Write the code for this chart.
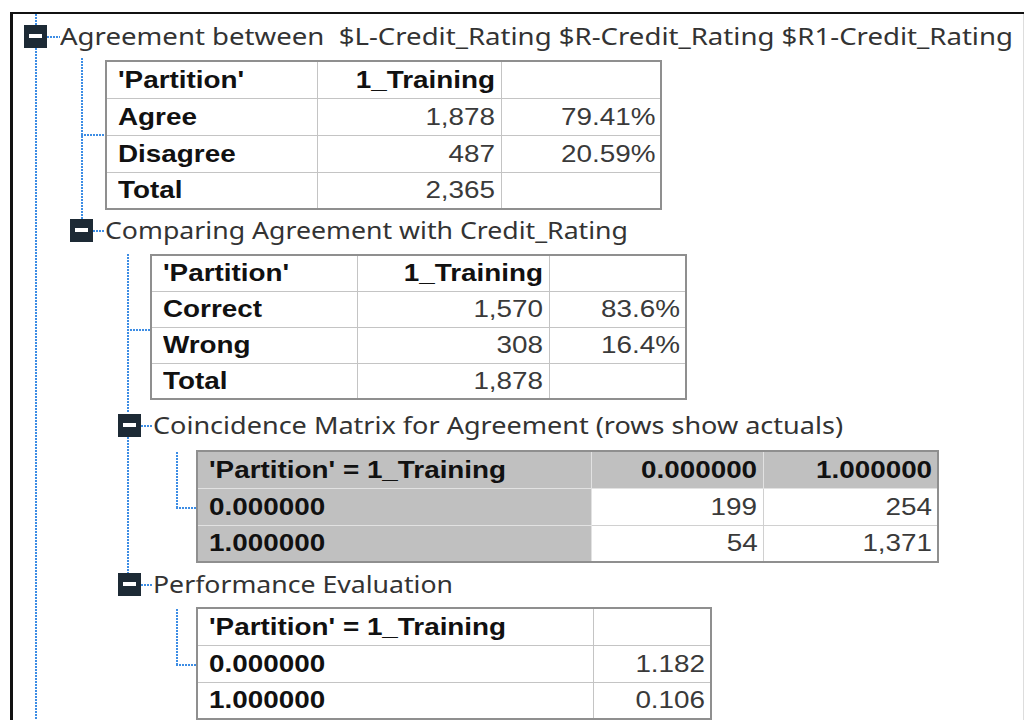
<!DOCTYPE html>
<html>
<head>
<meta charset="utf-8">
<script src="https://cdn.jsdelivr.net/npm/chart.js@4"></script>
<style>
  html, body { margin: 0; padding: 0; background: #fff; }
  body { width: 1026px; height: 720px; position: relative; overflow: hidden; font-family: "Liberation Sans", Arial, sans-serif; }
  .frameTop { position: absolute; left: 10px; top: 12px; width: 1014px; height: 2px; background: #111; }
  .frameLeft { position: absolute; left: 10px; top: 12px; width: 3px; height: 708px; background: #111; }
  .frameRight { position: absolute; left: 1023px; top: 14px; width: 1px; height: 706px; background: #ddd; }
  .vdot { position: absolute; width: 2px; background: repeating-linear-gradient(to bottom, #3d8de4 0 2px, transparent 2px 3px); }
  .hdot { position: absolute; height: 2px; background: repeating-linear-gradient(to right, #3d8de4 0 2px, transparent 2px 3px); }
  .box { position: absolute; width: 23px; height: 23px; background: #1d2a35; }
  .box::after { content: ""; position: absolute; left: 5px; top: 9px; width: 13px; height: 4px; background: #fff; }
  .title { position: absolute; font-family: "Noto Sans", sans-serif; font-size: 23px; color: #333; white-space: pre; transform-origin: left center; line-height: 30px; }
  table { position: absolute; border-collapse: collapse; table-layout: fixed; border: 2px solid #8f8f8f; }
  td { border: 1px solid #c4c4c4; padding: 0 5px 0 11px; font-size: 24px; white-space: nowrap; overflow: visible; color: #3a3a3a; }
  td.b { font-weight: bold; color: #111; }
  td.r { text-align: right; }
  td span { display: inline-block; transform: scaleX(1.16); transform-origin: left center; }
  td.r span { transform-origin: right center; }
  td.g { background: #c0c0c0; border-color: #e2e2e2; }
  td.w { background: #fff; border-color: #d0d0d0; }
</style>
</head>
<body>
<div class="frameTop"></div>
<div class="frameLeft"></div>
<div class="frameRight"></div>
<div id="tree"></div>
<script>
// section titles
const titles = [
  'Agreement between  $L-Credit_Rating $R-Credit_Rating $R1-Credit_Rating',
  'Comparing Agreement with Credit_Rating',
  'Coincidence Matrix for Agreement (rows show actuals)',
  'Performance Evaluation'
];

// agreement table
const partitionName = '1_Training';
const agreeRows = ['Agree', 'Disagree', 'Total'];
const agreeCounts = [1878, 487, 2365];
const agreePct = ['79.41%', '20.59%', ''];

// comparing table
const compareRows = ['Correct', 'Wrong', 'Total'];
const compareCounts = [1570, 308, 1878];
const comparePct = ['83.6%', '16.4%', ''];

// coincidence matrix
const matrixLabels = ['0.000000', '1.000000'];
const matrixValues = [[199, 254], [54, 1371]];

// performance evaluation
const perfLabels = ['0.000000', '1.000000'];
const perfValues = ['1.182', '0.106'];

const tree = document.getElementById('tree');
const fmt = n => n.toLocaleString('en-US');

function el(cls, css) {
  const d = document.createElement('div');
  d.className = cls;
  Object.assign(d.style, css);
  tree.appendChild(d);
  return d;
}
function vline(x, y1, y2) { el('vdot', { left: x + 'px', top: y1 + 'px', height: (y2 - y1) + 'px' }); }
function hline(y, x1, x2) { el('hdot', { left: x1 + 'px', top: y + 'px', width: (x2 - x1) + 'px' }); }

function heading(text, x, y, textX, target) {
  el('box', { left: x + 'px', top: y + 'px' });
  hline(y + 11, x + 23, textX);
  const t = el('title', { left: textX + 'px', top: (y - 4) + 'px' });
  t.textContent = text;
  const w = t.getBoundingClientRect().width;
  t.style.transform = 'scaleX(' + (target / w) + ')';
}

function makeTable(x, y, widths, rowH, rows) {
  const tb = document.createElement('table');
  tb.style.left = x + 'px';
  tb.style.top = y + 'px';
  const cg = document.createElement('colgroup');
  widths.forEach(w => { const c = document.createElement('col'); c.style.width = w + 'px'; cg.appendChild(c); });
  tb.appendChild(cg);
  tb.style.width = widths.reduce((a, b) => a + b, 0) + 'px';
  rows.forEach(r => {
    const tr = document.createElement('tr');
    tr.style.height = rowH + 'px';
    r.forEach(c => {
      const td = document.createElement('td');
      td.className = c.cls || '';
      const s = document.createElement('span');
      s.textContent = c.text;
      td.appendChild(s);
      tr.appendChild(td);
    });
    tb.appendChild(tr);
  });
  tree.appendChild(tb);
}

// tree connectors
vline(35, 14, 25);
vline(35, 48, 720);
vline(81, 58, 219);
hline(134, 81, 105);
vline(127, 254, 413);
vline(127, 437, 573);
hline(329, 127, 150);
vline(176, 452, 508);
hline(507, 176, 196);
vline(176, 609, 665);
hline(664, 176, 196);

heading(titles[0], 24, 25, 60, 953);
heading(titles[1], 70, 219, 105, 523);
heading(titles[2], 118, 414, 153, 690);
heading(titles[3], 118, 573, 153, 300);

makeTable(105, 60, [211, 184, 160], 37, [
  [{ text: "'Partition'", cls: 'b' }, { text: partitionName, cls: 'b r' }, { text: '' }]
].concat(agreeRows.map((r, i) => [
  { text: r, cls: 'b' }, { text: fmt(agreeCounts[i]), cls: 'r' }, { text: agreePct[i], cls: 'r' }
])));

makeTable(150, 254, [206, 192, 137], 36, [
  [{ text: "'Partition'", cls: 'b' }, { text: partitionName, cls: 'b r' }, { text: '' }]
].concat(compareRows.map((r, i) => [
  { text: r, cls: 'b' }, { text: fmt(compareCounts[i]), cls: 'r' }, { text: comparePct[i], cls: 'r' }
])));

makeTable(196, 450, [394, 172, 175], 37, [
  [{ text: "'Partition' = " + partitionName, cls: 'b g' }].concat(matrixLabels.map(l => ({ text: l, cls: 'b g r' })))
].concat(matrixLabels.map((l, i) => [{ text: l, cls: 'b g' }].concat(
  matrixValues[i].map(v => ({ text: fmt(v), cls: 'w r' }))
))));

makeTable(196, 607, [396, 118], 37, [
  [{ text: "'Partition' = " + partitionName, cls: 'b' }, { text: '' }]
].concat(perfLabels.map((l, i) => [{ text: l, cls: 'b' }, { text: perfValues[i], cls: 'r' }])));
</script>
</body>
</html>
